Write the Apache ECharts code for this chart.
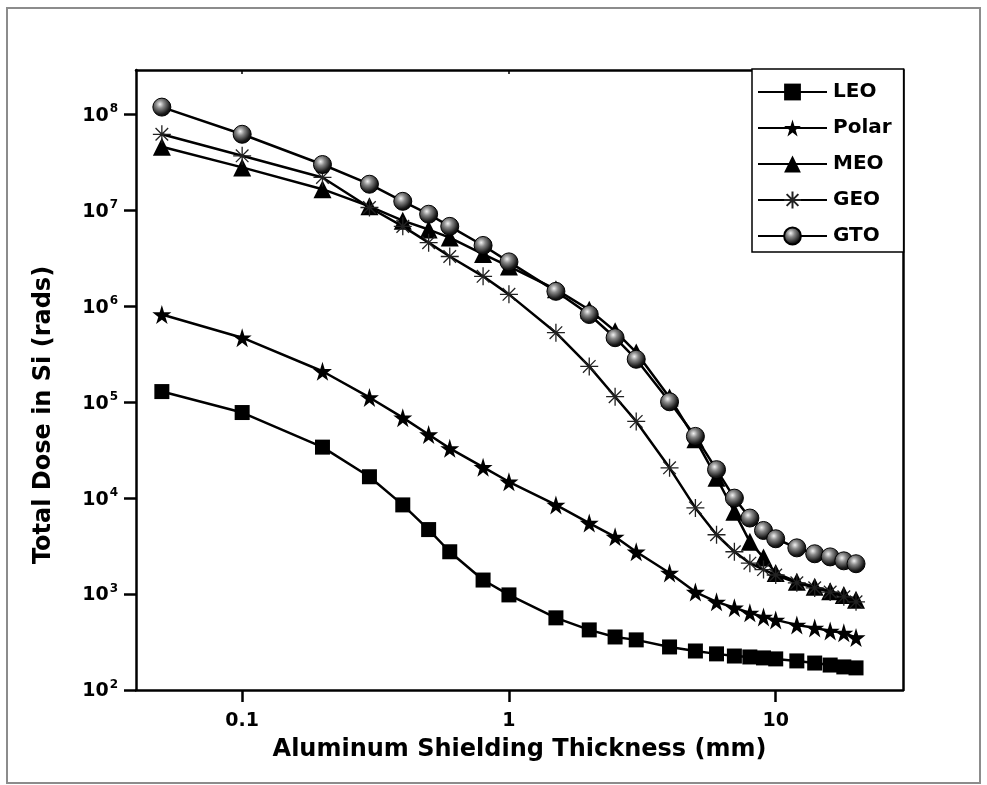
<!DOCTYPE html>
<html>
<head>
<meta charset="utf-8">
<script src="https://cdn.jsdelivr.net/npm/echarts@6/dist/echarts.min.js"></script>
<style>
  html, body { margin: 0; padding: 0; background: #fff; }
  #chart { width: 987px; height: 785px; }
</style>
</head>
<body>
<div id="chart"></div>
<script>
  // shielding thickness (mm) and total dose (rads)
  const thickness = [0.05, 0.1, 0.2, 0.3, 0.4, 0.5, 0.6, 0.8, 1, 1.5, 2, 2.5, 3, 4, 5, 6, 7, 8, 9, 10, 12, 14, 16, 18, 20];
  const leo = [1.29e5, 7.8e4, 3.4e4, 1.67e4, 8.5e3, 4.7e3, 2.76e3, 1.4e3, 980, 565, 423, 357, 333, 281, 255, 238, 226, 221, 216, 211, 201, 191, 182, 174, 170];
  const polar = [8.2e5, 4.7e5, 2.1e5, 1.12e5, 6.9e4, 4.6e4, 3.3e4, 2.1e4, 1.48e4, 8.5e3, 5.5e3, 3.95e3, 2.76e3, 1.66e3, 1.05e3, 830, 720, 637, 578, 538, 477, 444, 413, 394, 352];
  const meo = [4.6e7, 2.8e7, 1.66e7, 1.1e7, 7.8e6, 6.3e6, 5.2e6, 3.5e6, 2.6e6, 1.5e6, 9.2e5, 5.5e5, 3.3e5, 1.12e5, 4.1e4, 1.63e4, 7.2e3, 3.5e3, 2.4e3, 1.66e3, 1.34e3, 1.19e3, 1.07e3, 975, 870];
  const geo = [6.2e7, 3.7e7, 2.2e7, 1.07e7, 6.8e6, 4.6e6, 3.3e6, 2.05e6, 1.33e6, 5.3e5, 2.36e5, 1.14e5, 6.3e4, 2.07e4, 7.9e3, 4.15e3, 2.76e3, 2.1e3, 1.8e3, 1.58e3, 1.31e3, 1.16e3, 1.05e3, 935, 830];
  const gto = [1.19e8, 6.2e7, 3.0e7, 1.87e7, 1.24e7, 9.1e6, 6.8e6, 4.3e6, 2.9e6, 1.43e6, 8.2e5, 4.7e5, 2.8e5, 1.01e5, 4.4e4, 1.98e4, 1.0e4, 6.2e3, 4.6e3, 3.77e3, 3.03e3, 2.63e3, 2.44e3, 2.22e3, 2.07e3];

  const xTicks = [0.1, 1, 10];
  const yTicks = [1e2, 1e3, 1e4, 1e5, 1e6, 1e7, 1e8];

  const FONT = 'DejaVu Sans';
  const starPath = 'path://M50,0L61,35L98,35L68,57L79,91L50,70L21,91L32,57L2,35L39,35Z';
  const asteriskPath = 'path://M10,0L10,20M0,10L20,10M3,3L17,17M3,17L17,3';

  function pairs(ys) {
    return thickness.map((x, i) => [x, ys[i]]);
  }

  function line(name, ys, symbol, size, itemStyle) {
    return {
      name: name,
      type: 'line',
      data: pairs(ys),
      symbol: symbol,
      symbolSize: size,
      showAllSymbol: true,
      lineStyle: { color: '#000', width: 2.5 },
      itemStyle: itemStyle,
      emphasis: { disabled: true }
    };
  }

  const sphere = {
    type: 'radial', x: 0.4, y: 0.35, r: 0.7,
    colorStops: [
      { offset: 0, color: '#f2f2f2' },
      { offset: 0.3, color: '#8a8a8a' },
      { offset: 0.75, color: '#1a1a1a' },
      { offset: 1, color: '#000' }
    ]
  };

  const chart = echarts.init(document.getElementById('chart'));
  chart.setOption({
    animation: false,
    backgroundColor: '#fff',
    grid: { left: 136, top: 70, right: 84, bottom: 95 },
    graphic: [{
      type: 'rect',
      shape: { x: 7, y: 8, width: 973, height: 775 },
      style: { fill: 'none', stroke: '#8c8c8c', lineWidth: 2 },
      silent: true
    }],
    legend: {
      orient: 'vertical',
      left: 752,
      top: 69,
      padding: [13, 12, 6, 5],
      itemWidth: 69,
      itemHeight: 21,
      itemGap: 16,
      backgroundColor: '#fff',
      borderColor: '#000',
      borderWidth: 1.5,
      textStyle: { fontFamily: FONT, fontWeight: 'bold', fontSize: 20, color: '#000', padding: [0, 0, 0, 1] },
      data: ['LEO', 'Polar', 'MEO', 'GEO', 'GTO']
    },
    xAxis: [{
      type: 'log',
      min: 0.04,
      max: 30,
      name: 'Aluminum Shielding Thickness (mm)',
      nameLocation: 'middle',
      nameGap: 48,
      nameTextStyle: { fontFamily: FONT, fontWeight: 'bold', fontSize: 24, color: '#000' },
      axisLine: { lineStyle: { color: '#000', width: 2.5 } },
      axisTick: { length: 12, lineStyle: { width: 2.5, color: '#000' }, customValues: xTicks },
      axisLabel: {
        customValues: xTicks,
        margin: 22,
        fontFamily: FONT, fontWeight: 'bold', fontSize: 19, color: '#000',
        formatter: v => String(v)
      },
      splitLine: { show: false },
      minorTick: { show: false }
    }, {
      type: 'log',
      min: 0.04,
      max: 30,
      position: 'top',
      axisLine: { lineStyle: { color: '#000', width: 2.5 } },
      axisTick: { inside: true, length: 4, lineStyle: { width: 1.5, color: '#000' }, customValues: xTicks },
      axisLabel: { show: false },
      splitLine: { show: false }
    }],
    yAxis: [{
      type: 'log',
      min: 100,
      max: 2.9e8,
      name: 'Total Dose in Si (rads)',
      nameLocation: 'middle',
      nameGap: 80,
      nameTextStyle: { fontFamily: FONT, fontWeight: 'bold', fontSize: 24, color: '#000', padding: [0, 70, 0, 0] },
      axisLine: { lineStyle: { color: '#000', width: 2.5 } },
      axisTick: { length: 12, lineStyle: { width: 2.5, color: '#000' }, customValues: yTicks },
      axisLabel: {
        customValues: yTicks,
        margin: 18,
        formatter: v => '{b|10}{s|' + Math.round(Math.log10(v)) + '}',
        rich: {
          b: { fontFamily: FONT, fontWeight: 'bold', fontSize: 19, color: '#000', lineHeight: 22, verticalAlign: 'bottom' },
          s: { fontFamily: FONT, fontWeight: 'bold', fontSize: 12, color: '#000', lineHeight: 12, verticalAlign: 'top', padding: [0, 0, 0, 1] }
        }
      },
      splitLine: { show: false }
    }, {
      type: 'log',
      min: 100,
      max: 2.9e8,
      position: 'right',
      axisLine: { lineStyle: { color: '#000', width: 2.5 } },
      axisTick: { show: false },
      axisLabel: { show: false },
      splitLine: { show: false }
    }],
    series: [
      line('LEO', leo, 'rect', 15, { color: '#000' }),
      line('Polar', polar, starPath, 19, { color: '#000' }),
      line('MEO', meo, 'triangle', 18, { color: '#000' }),
      line('GEO', geo, asteriskPath, 18, { color: 'rgba(0,0,0,0)', borderColor: '#222', borderWidth: 1.3 }),
      line('GTO', gto, 'circle', 18, { color: sphere, borderColor: '#000', borderWidth: 1 })
    ]
  });
</script>
</body>
</html>
